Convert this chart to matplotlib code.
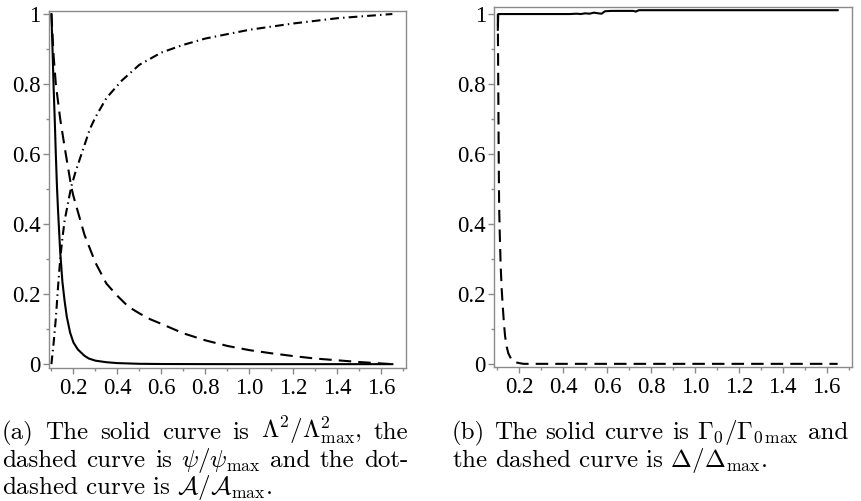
import numpy as np
import matplotlib
matplotlib.use("Agg")
import matplotlib.pyplot as plt
from matplotlib.ticker import MultipleLocator, FixedLocator

plt.rcParams['mathtext.fontset'] = 'cm'

# ---- panel (a) data ----
lam_x = [0.100, 0.105, 0.110, 0.115, 0.120, 0.125, 0.130, 0.140, 0.150, 0.160, 0.170, 0.185,
         0.200, 0.220, 0.250, 0.270, 0.300, 0.350, 0.400, 0.500, 0.600, 0.800, 1.000, 1.650]
lam_y = [1.000, 0.900, 0.790, 0.700, 0.600, 0.510, 0.440, 0.320, 0.235, 0.180, 0.135, 0.090,
         0.062, 0.042, 0.024, 0.016, 0.010, 0.0055, 0.003, 0.001, 0.0004, 0.0001, 0.0, 0.0]

psi_x = [0.100, 0.110, 0.120, 0.140, 0.160, 0.180, 0.190, 0.200, 0.250, 0.300, 0.350, 0.400,
         0.450, 0.500, 0.550, 0.600, 0.700, 0.800, 0.900, 1.000, 1.100, 1.200, 1.300, 1.400,
         1.500, 1.600, 1.650]
psi_y = [1.000, 0.880, 0.800, 0.700, 0.620, 0.545, 0.507, 0.480, 0.370, 0.290, 0.230, 0.195,
         0.164, 0.145, 0.128, 0.115, 0.088, 0.068, 0.052, 0.040, 0.031, 0.023, 0.016, 0.011,
         0.006, 0.002, 0.000]

area_x = [0.100, 0.110, 0.120, 0.130, 0.140, 0.150, 0.160, 0.180, 0.190, 0.210, 0.250, 0.275,
          0.300, 0.350, 0.420, 0.500, 0.600, 0.700, 0.800, 1.000, 1.200, 1.400, 1.650]
area_y = [0.000, 0.060, 0.130, 0.220, 0.300, 0.360, 0.410, 0.475, 0.507, 0.550, 0.625, 0.672,
          0.705, 0.760, 0.810, 0.855, 0.890, 0.912, 0.930, 0.955, 0.973, 0.988, 1.000]

# ---- panel (b) data ----
gam_x = [0.102, 0.104, 0.300, 0.430, 0.460, 0.480, 0.500, 0.520, 0.540, 0.560, 0.575, 0.590,
         0.620, 0.700, 0.720, 0.730, 0.745, 1.000, 1.650]
gam_y = [0.955, 1.000, 1.000, 1.000, 1.001, 1.000, 1.002, 1.001, 1.004, 1.002, 1.001, 1.008,
         1.009, 1.009, 1.009, 1.007, 1.011, 1.011, 1.011]

del_x = [0.102, 0.104, 0.106, 0.108, 0.111, 0.115, 0.120, 0.125, 0.130, 0.135, 0.142, 0.150,
         0.165, 0.180, 0.200, 0.220, 1.650]
del_y = [1.000, 0.800, 0.600, 0.450, 0.370, 0.280, 0.210, 0.160, 0.115, 0.080, 0.050, 0.030,
         0.011, 0.005, 0.002, 0.000, 0.000]

xticks = [0.2, 0.4, 0.6, 0.8, 1.0, 1.2, 1.4, 1.6]
xticklabels = ["0.2", "0.4", "0.6", "0.8", "1.0", "1.2", "1.4", "1.6"]
yticks = [0, 0.2, 0.4, 0.6, 0.8, 1.0]
yticklabels = ["0", "0.2", "0.4", "0.6", "0.8", "1"]

cap_a = [r"(a) The solid curve is $\Lambda^2/\Lambda^2_{\mathrm{max}}$, the",
         r"dashed curve is $\psi/\psi_{\mathrm{max}}$ and the dot-",
         r"dashed curve is $\mathcal{A}/\mathcal{A}_{\mathrm{max}}$."]
cap_b = [r"(b) The solid curve is $\Gamma_0/\Gamma_{0\,\mathrm{max}}$ and",
         r"the dashed curve is $\Delta/\Delta_{\mathrm{max}}$."]

W, H = 862, 501
fig = plt.figure(figsize=(W / 100, H / 100), dpi=100)

axA = fig.add_axes([49 / W, 1 - 368 / H, (406 - 49) / W, (368 - 11) / H])
axB = fig.add_axes([494.3 / W, 1 - 367 / H, (851.7 - 494.3) / W, (367 - 6.7) / H])

lw = 1.5
dash = (0, (6.0, 3.4))
dashdot = (0, (4.2, 2.0, 0.7, 2.0))

axA.plot(lam_x, lam_y, color='black', lw=lw, ls='-')
axA.plot(psi_x, psi_y, color='black', lw=lw, ls=dash)
axA.plot(area_x, area_y, color='black', lw=lw, ls=dashdot)
axA.set_xlim(0.089, 1.712)
axA.set_ylim(-0.011, 1.0086)

axB.plot(gam_x, gam_y, color='black', lw=lw, ls='-')
axB.plot(del_x, del_y, color='black', lw=lw, ls=dash)
axB.set_xlim(0.086, 1.714)
axB.set_ylim(-0.009, 1.021)

frame_col = '#8a8a8a'
for ax in (axA, axB):
    ax.xaxis.set_major_locator(FixedLocator(xticks))
    ax.set_xticklabels(xticklabels)
    ax.yaxis.set_major_locator(FixedLocator(yticks))
    ax.set_yticklabels(yticklabels)
    ax.xaxis.set_minor_locator(MultipleLocator(0.1))
    ax.yaxis.set_minor_locator(MultipleLocator(0.1))
    ax.tick_params(which='both', direction='out', color=frame_col, width=1,
                   top=False, right=False)
    ax.tick_params(which='major', length=4, labelsize=16.5)
    ax.tick_params(which='minor', length=2.5)
    ax.tick_params(axis='x', pad=3)
    ax.tick_params(axis='y', pad=2)
    for lab in ax.get_xticklabels() + ax.get_yticklabels():
        lab.set_fontfamily('Liberation Serif')
    for sp in ax.spines.values():
        sp.set_color(frame_col)
        sp.set_linewidth(1)

cap = dict(fontsize=18, family='cmr10', va='baseline', ha='left')
renderer = fig.canvas.get_renderer()


def justified(line, x0, x1, ybase):
    words = line.split(' ')
    texts = [fig.text(0, 1 - ybase / H, w, **cap) for w in words]
    widths = [t.get_window_extent(renderer).width for t in texts]
    gap = (x1 - x0 - sum(widths)) / (len(words) - 1)
    x = x0
    for t, w in zip(texts, widths):
        t.set_x(x / W)
        x += w + gap


bases = [439, 467, 494]
justified(cap_a[0], 2, 408, bases[0])
justified(cap_a[1], 2, 408, bases[1])
fig.text(2 / W, 1 - bases[2] / H, cap_a[2], **cap)
justified(cap_b[0], 452, 848, bases[0])
fig.text(452 / W, 1 - bases[1] / H, cap_b[1], **cap)

fig.savefig("out.png", dpi=100)
